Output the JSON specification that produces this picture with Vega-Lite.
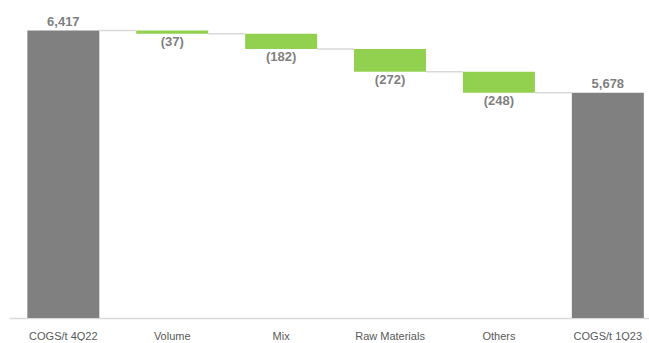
{
  "$schema": "https://vega.github.io/schema/vega-lite/v6.json",
  "width": 640,
  "height": 318,
  "padding": {"left": 9, "top": 0, "right": 0, "bottom": 0},
  "background": "white",
  "config": {"view": {"stroke": null}, "font": "Liberation Sans"},
  "data": {
    "values": [
      {"label": "COGS/t 4Q22", "start": 0, "end": 6417, "type": "total", "text": "6,417", "level": 6417},
      {"label": "Volume", "start": 6417, "end": 6380, "type": "delta", "text": "(37)", "level": 6380},
      {"label": "Mix", "start": 6380, "end": 6198, "type": "delta", "text": "(182)", "level": 6198},
      {"label": "Raw Materials", "start": 6198, "end": 5926, "type": "delta", "text": "(272)", "level": 5926},
      {"label": "Others", "start": 5926, "end": 5678, "type": "delta", "text": "(248)", "level": 5678},
      {"label": "COGS/t 1Q23", "start": 0, "end": 5678, "type": "total", "text": "5,678", "level": null}
    ]
  },
  "encoding": {
    "x": {
      "field": "label",
      "type": "nominal",
      "sort": null,
      "scale": {"paddingInner": 0.339, "paddingOuter": 0.108, "align": 0.78},
      "axis": {
        "title": null,
        "labelAngle": 0,
        "ticks": false,
        "domainColor": "#d9d9d9",
        "domainWidth": 1.5,
        "labelColor": "#595959",
        "labelFontSize": 11,
        "labelPadding": 12,
        "labelFont": "Liberation Sans"
      }
    }
  },
  "layer": [
    {
      "mark": {"type": "bar"},
      "encoding": {
        "y": {
          "field": "start",
          "type": "quantitative",
          "scale": {"domain": [3000, 6780], "clamp": true, "nice": false, "zero": false},
          "axis": null
        },
        "y2": {"field": "end"},
        "color": {
          "field": "type",
          "type": "nominal",
          "scale": {"domain": ["total", "delta"], "range": ["#808080", "#92d050"]},
          "legend": null
        }
      }
    },
    {
      "transform": [{"filter": "datum.level != null"}],
      "mark": {"type": "tick", "orient": "horizontal", "color": "#d9d9d9", "thickness": 1.5, "size": 37, "xOffset": 54.5, "opacity": 1},
      "encoding": {
        "y": {"field": "level", "type": "quantitative"}
      }
    },
    {
      "transform": [{"filter": "datum.type == 'total'"}],
      "mark": {"type": "text", "baseline": "middle", "dy": -8.5, "fontWeight": "bold", "fontSize": 13, "color": "#7f7f7f"},
      "encoding": {
        "y": {"field": "end", "type": "quantitative"},
        "text": {"field": "text"}
      }
    },
    {
      "transform": [{"filter": "datum.type == 'delta'"}],
      "mark": {"type": "text", "baseline": "middle", "dy": 8.5, "fontWeight": "bold", "fontSize": 13, "color": "#7f7f7f"},
      "encoding": {
        "y": {"field": "end", "type": "quantitative"},
        "text": {"field": "text"}
      }
    }
  ]
}
